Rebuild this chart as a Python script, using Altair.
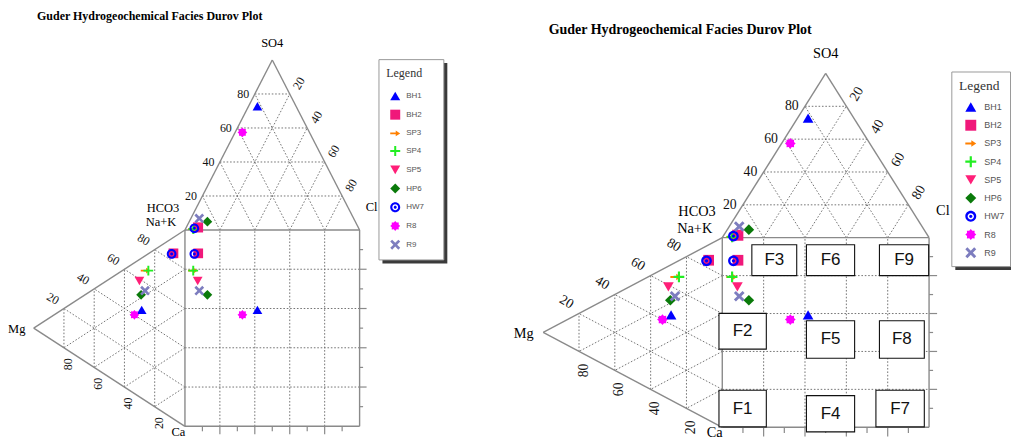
import math
import altair as alt
import pandas as pd

# ---------------- data ----------------
samples = ["BH1", "BH2", "SP3", "SP4", "SP5", "HP6", "HW7", "R8", "R9"]
# cations (meq %)
ca = [26.4, 8.1, 7.7, 8.6, 10.9, 18.5, 7.8, 26.5, 17.7]
mg = [28.6, 7.6, 26.0, 24.2, 30.1, 29.0, 8.8, 33.4, 26.4]
nak = [45.0, 84.3, 66.3, 67.2, 59.0, 52.5, 83.4, 40.1, 55.9]
# anions (meq %)
hco3 = [22.1, 91.7, 95.2, 95.0, 91.7, 84.7, 94.1, 38.4, 88.4]
so4 = [72.8, 1.4, 0.5, 0.5, 2.0, 4.9, 1.0, 57.4, 6.8]
cl = [5.1, 6.9, 4.3, 4.5, 6.3, 10.4, 4.9, 4.2, 4.8]

colors = ["#0000ff", "#f0187a", "#ff8000", "#22ee22", "#ff1f78",
          "#0a7a0a", "#0000ff", "#ff00ff", "#7d7dbf"]

grid_levels = [20, 40, 60, 80]
tick_levels = [10, 20, 30, 40, 50, 60, 70, 80, 90]

facies = ["F1", "F2", "F3", "F4", "F5", "F6", "F7", "F8", "F9"]
fx1 = [-1.6, -1.6, 14.3, 40.7, 40.7, 40.7, 74.3, 76.0, 76.0]
fx2 = [21.3, 21.3, 36.0, 64.0, 64.0, 64.0, 97.7, 97.7, 99.8]
fy1 = [0.2, 41.2, 80.0, -2.4, 36.4, 80.0, 0.2, 36.4, 80.0]
fy2 = [19.5, 60.1, 96.3, 16.7, 56.2, 96.3, 19.5, 56.2, 96.3]

title_text = "Guder Hydrogeochemical Facies Durov Plot"

# ---------------- symbol shapes ----------------
def star_path(n=8, r1=1.0, r2=0.74):
    pts = []
    for i in range(2 * n):
        r = r1 if i % 2 == 0 else r2
        a = math.pi * i / n
        pts.append(f"{r * math.sin(a):.3f},{-r * math.cos(a):.3f}")
    return "M" + "L".join(pts) + "Z"

ring = ("M0,-1A1,1 0 1,1 0,1A1,1 0 1,1 0,-1Z "
        "M0,-0.58A0.58,0.58 0 1,0 0,0.58A0.58,0.58 0 1,0 0,-0.58Z "
        "M0,-0.3A0.3,0.3 0 1,1 0,0.3A0.3,0.3 0 1,1 0,-0.3Z")
plus = "M-1,-0.2H1V0.2H-1Z M-0.2,-1H0.2V1H-0.2Z"
arrow = "M-1,-0.18H0.1V-0.6L1,0L0.1,0.6V0.18H-1Z"
xshape = ("M-1,-0.62L-0.62,-1L0,-0.38L0.62,-1L1,-0.62L0.38,0L1,0.62L0.62,1"
          "L0,0.38L-0.62,1L-1,0.62L-0.38,0Z")
shapes = ["triangle-up", "square", arrow, plus, "triangle-down",
          "diamond", ring, star_path(), xshape]

H3 = math.sqrt(3) / 2

points = pd.DataFrame({
    "sample": samples * 3,
    "part": ["top"] * 9 + ["left"] * 9 + ["square"] * 9,
    "ca": ca * 3, "mg": mg * 3, "nak": nak * 3,
    "hco3": hco3 * 3, "so4": so4 * 3, "cl": cl * 3,
})


def panel(g):
    sx, sy, ox, oy, W, Hh, f = g["sx"], g["sy"], g["ox"], g["oy"], g["W"], g["H"], g["f"]
    xdom = [(0 - ox) / sx, (W - ox) / sx]
    ydom = [(oy - Hh) / sy, oy / sy]
    xs = alt.Scale(domain=xdom, nice=False, zero=False)
    ys = alt.Scale(domain=ydom, nice=False, zero=False)

    def X(fld):
        return alt.X(fld, type="quantitative", scale=xs, axis=None)

    def Y(fld):
        return alt.Y(fld, type="quantitative", scale=ys, axis=None)

    def off(ax, ay, dx, dy):
        return ax + dx * f / sx, ay - dy * f / sy

    A = 100 * H3
    outline = [
        (0, 100, 50, 100 + A), (50, 100 + A, 100, 100), (0, 100, 100, 100),
        (0, 0, 100, 0), (100, 0, 100, 100), (0, 0, 0, 100),
        (0, 100, -A, 50), (-A, 50, 0, 0),
    ]
    grid = []
    for k in grid_levels:
        grid.append((k / 2, 100 + k * H3, 100 - k / 2, 100 + k * H3))
        grid.append((k, 100, (k + 100) / 2, 100 + (100 - k) * H3))
        grid.append((100 - k, 100, (100 - k) / 2, 100 + (100 - k) * H3))
        grid.append((k, 0, k, 100))
        grid.append((0, k, 100, k))
        grid.append((-k * H3, k / 2, -k * H3, 100 - k / 2))
        grid.append((0, k, -(100 - k) * H3, k + (100 - k) / 2))
        grid.append((0, 100 - k, -(100 - k) * H3, (100 - k) / 2))
    ticks = []
    for k in tick_levels:
        major = k % 20 == 0
        lb = (8 if major else 5) * f / sy
        lr = (7 if major else 3.5) * f / sx
        ticks.append((k, 0, k, -lb))
        ticks.append((100, k, 100 + lr, k))

    def segdf(rows):
        return pd.DataFrame(rows, columns=["x", "y", "x2", "y2"])

    def rules(rows, **kw):
        return alt.Chart(segdf(rows)).mark_rule(**kw).encode(
            x=X("x"), y=Y("y"), x2="x2", y2="y2")

    layers = [
        rules(grid, color="#666666", strokeWidth=0.9, strokeDash=[1.6, 1.8]),
        rules(ticks, color="#8a8a8a", strokeWidth=1.2),
        rules(outline, color="#8a8a8a", strokeWidth=1.4),
    ]

    if g["boxes"]:
        fb = pd.DataFrame({"name": facies, "x1": fx1, "x2": fx2, "y1": fy1, "y2": fy2})
        fb["cx"] = (fb["x1"] + fb["x2"]) / 2
        fb["cy"] = (fb["y1"] + fb["y2"]) / 2
        layers.append(alt.Chart(fb).mark_rect(fill="white", stroke="#111111", strokeWidth=1.1).encode(
            x=X("x1"), x2="x2", y=Y("y1"), y2="y2"))
        layers.append(alt.Chart(fb).mark_text(font="Liberation Sans", fontSize=17, color="#111111").encode(
            x=X("cx"), y=Y("cy"), text="name:N"))

    def labdf(rows):
        return pd.DataFrame(rows, columns=["x", "y", "t"])

    so4_l, cl_l, nak_l, mg_l = [], [], [], []
    for k in grid_levels:
        so4_l.append((*off(k / 2, 100 + k * H3, -11.5, 0), str(k)))
        cl_l.append((*off(100 - (100 - k) / 2, 100 + (100 - k) * H3, 9, -10.7), str(k)))
        nak_l.append((*off(-(100 - k) * H3, k + (100 - k) / 2, -11, -10), str(k)))
        mg_l.append((*off(-k * H3, k / 2, 4, 16.5), str(k)))
    fs = 12 * f
    for rows, ang in [(so4_l, 0), (cl_l, 300), (nak_l, 30), (mg_l, 270)]:
        layers.append(alt.Chart(labdf(rows)).mark_text(
            font="Liberation Serif", fontSize=fs, color="#111111", angle=ang,
            align="center", baseline="middle").encode(x=X("x"), y=Y("y"), text="t:N"))

    names = [
        (*off(50, 100 + A, 0, -16.7), "SO4"),
        (*off(100, 100, 12, -23), "Cl"),
        (*off(0, 100, -22, -22.5), "HCO3"),
        (*off(0, 100, -24, -7.7), "Na+K"),
        (*off(-A, 50, -17, 1), "Mg"),
    ]
    layers.append(alt.Chart(labdf(names)).mark_text(
        font="Liberation Serif", fontSize=12.5 * f, color="#000000",
        align="center", baseline="middle").encode(x=X("x"), y=Y("y"), text="t:N"))
    ca_lab = [(*off(0, 0, -6.6, g["ca_dy"]), "Ca")]
    layers.append(alt.Chart(labdf(ca_lab)).mark_text(
        font="Liberation Serif", fontSize=12.5 * f, color="#000000",
        align="center", baseline="bottom").encode(x=X("x"), y=Y("y"), text="t:N"))

    tdf = pd.DataFrame({"t": [title_text]})
    layers.append(alt.Chart(tdf).mark_text(
        font="Liberation Serif", fontWeight="bold", fontSize=g["tfs"], color="#000000",
        align="center", baseline="middle").encode(
        x=alt.value(g["tx"]), y=alt.value(g["ty"]), text="t:N"))

    bx1, by1, bx2, by2 = g["box"]
    one = pd.DataFrame({"a": [0]})
    layers.append(alt.Chart(one).mark_rect(fill="#3a3a3a").encode(
        x=alt.value(bx1 + 3.5), x2=alt.value(min(bx2 + 3.5, W)),
        y=alt.value(by1 + 3.5), y2=alt.value(by2 + 3.5)))
    layers.append(alt.Chart(one).mark_rect(fill="white", stroke="#9a9a9a", strokeWidth=1).encode(
        x=alt.value(bx1), x2=alt.value(bx2), y=alt.value(by1), y2=alt.value(by2)))

    lg = g["leg"]
    legend = alt.Legend(
        title="Legend", orient="none", legendX=lg["x"], legendY=lg["y"],
        titleFont="Liberation Serif", titleFontSize=lg["tfs"], titleFontWeight="normal",
        titleColor="#333333", titlePadding=lg["tpad"],
        labelFont="Liberation Sans", labelFontSize=lg["lfs"], labelColor="#555555",
        symbolSize=lg["ss"], symbolOffset=lg["soff"], labelOffset=lg["loff"],
        rowPadding=lg["rpad"], padding=0, symbolStrokeWidth=0, symbolOpacity=1)

    pts = alt.Chart(points).transform_calculate(
        px=f"datum.part == 'left' ? -{H3}*datum.mg : datum.cl + datum.so4/2",
        py=f"datum.part == 'top' ? 100 + {H3}*datum.so4 : datum.nak + datum.mg/2",
    ).mark_point(filled=True, opacity=1, size=g["psize"]).encode(
        x=X("px"), y=Y("py"),
        color=alt.Color("sample:N", scale=alt.Scale(domain=samples, range=colors), legend=legend),
        shape=alt.Shape("sample:N", scale=alt.Scale(domain=samples, range=shapes), legend=legend),
    )
    layers.append(pts)

    return alt.layer(*layers).properties(width=W, height=Hh)


left_geom = dict(sx=1.75, sy=1.967, ox=175.3, oy=418.7, W=492, H=432, f=1.0,
                 boxes=False, psize=95, ca_dy=12.3, tfs=12, tx=140, ty=8,
                 box=(369.7, 51.3, 434.7, 252.0),
                 leg=dict(x=377, y=59.5, tfs=12, tpad=11.2, lfs=8, ss=100,
                          soff=4.0, loff=6.0, rpad=8.75))
right_geom = dict(sx=2.072, sy=1.90, ox=221.7, oy=419.7, W=511, H=432, f=1.15,
                  boxes=True, psize=115, ca_dy=11.0, tfs=14, tx=179.5, ty=22,
                  box=(451.7, 63.7, 510.5, 258.7),
                  leg=dict(x=459, y=70.6, tfs=13.5, tpad=9.2, lfs=9, ss=120,
                           soff=6.2, loff=8.1, rpad=7.25))

chart = alt.hconcat(panel(left_geom), panel(right_geom), spacing=0, bounds="flush",
                    padding=0).resolve_scale(
    x="independent", y="independent", color="independent", shape="independent"
).configure_view(stroke=None)

chart.save("out.html", embed_options={"renderer": "svg", "actions": False})
